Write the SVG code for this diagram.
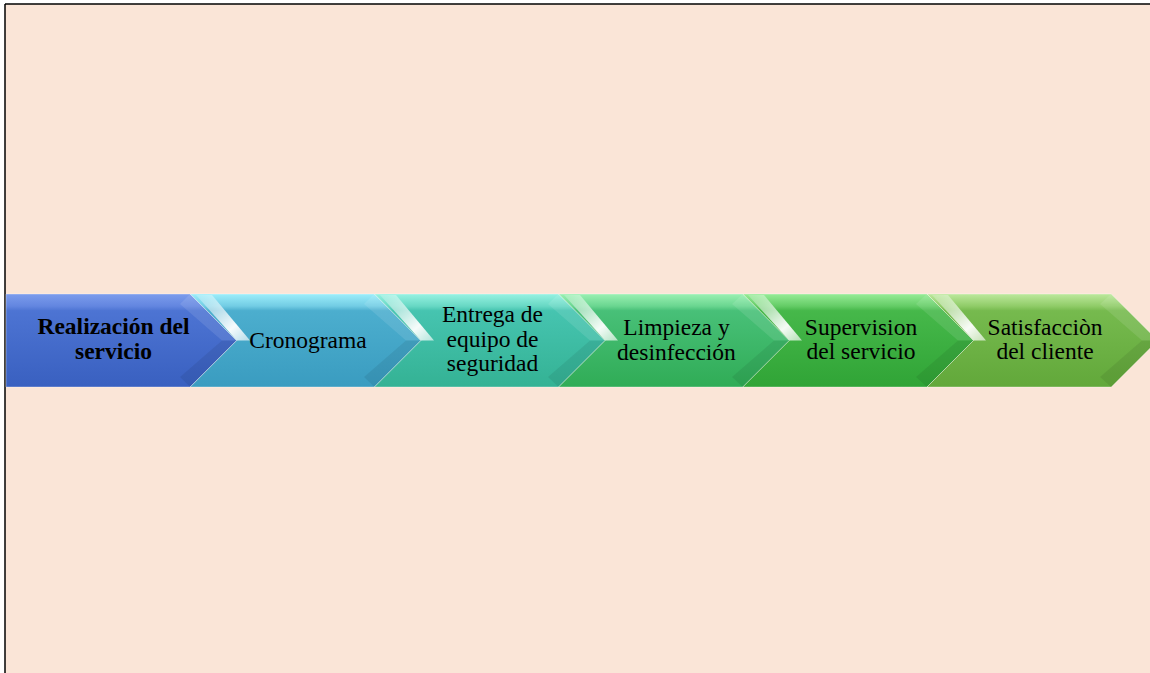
<svg xmlns="http://www.w3.org/2000/svg" width="1150" height="673" viewBox="0 0 1150 673">
<style>
.lbl{font-family:"Liberation Serif","Times New Roman",serif;font-size:23.5px;fill:#000;text-anchor:middle}
.b{font-weight:bold}
.sh{stroke:#ffffff;stroke-opacity:0.35;stroke-width:1}
.hl{fill:url(#hlg)}
.up{fill:#ffffff;fill-opacity:0.10}
.dn{fill:#000000;fill-opacity:0.07}
</style>
<defs>
<linearGradient id="g1" x1="0" y1="0" x2="0" y2="1"><stop offset="0" stop-color="#7C9CEC"/><stop offset="0.13" stop-color="#6386E0"/><stop offset="0.18" stop-color="#4D74D3"/><stop offset="1" stop-color="#3960C0"/></linearGradient>
<linearGradient id="g2" x1="0" y1="0" x2="0" y2="1"><stop offset="0" stop-color="#9CEEFA"/><stop offset="0.13" stop-color="#72CCE4"/><stop offset="0.18" stop-color="#4CAECE"/><stop offset="1" stop-color="#3A9CC0"/></linearGradient>
<linearGradient id="g3" x1="0" y1="0" x2="0" y2="1"><stop offset="0" stop-color="#96F2E2"/><stop offset="0.13" stop-color="#68D8C4"/><stop offset="0.18" stop-color="#46C4B0"/><stop offset="1" stop-color="#34B294"/></linearGradient>
<linearGradient id="g4" x1="0" y1="0" x2="0" y2="1"><stop offset="0" stop-color="#9AF0B2"/><stop offset="0.13" stop-color="#6AD690"/><stop offset="0.18" stop-color="#48C078"/><stop offset="1" stop-color="#30AC56"/></linearGradient>
<linearGradient id="g5" x1="0" y1="0" x2="0" y2="1"><stop offset="0" stop-color="#96EC96"/><stop offset="0.13" stop-color="#64CC66"/><stop offset="0.18" stop-color="#46B84A"/><stop offset="1" stop-color="#30A436"/></linearGradient>
<linearGradient id="g6" x1="0" y1="0" x2="0" y2="1"><stop offset="0" stop-color="#BCE89C"/><stop offset="0.13" stop-color="#90CC68"/><stop offset="0.18" stop-color="#76BA4E"/><stop offset="1" stop-color="#62A83A"/></linearGradient>
<linearGradient id="hlg" x1="0" y1="0" x2="1" y2="1"><stop offset="0" stop-color="#ffffff" stop-opacity="0.2"/><stop offset="0.7" stop-color="#ffffff" stop-opacity="0.95"/><stop offset="1" stop-color="#ffffff" stop-opacity="0.6"/></linearGradient>
</defs>
<rect x="0" y="0" width="1150" height="673" fill="#ffffff"/>
<rect x="5" y="4" width="1145" height="669" fill="#FAE5D7"/>
<line x1="5" y1="4" x2="1150" y2="4" stroke="#000" stroke-width="1.5"/>
<line x1="5" y1="4" x2="5" y2="673" stroke="#000" stroke-width="1.5"/>
<g id="connectors"></g>
<g id="n1">
<polygon class="sh" fill="url(#g1)" points="6,294 190.2,294 236.7,340.5 190.2,387 6,387"/>
<polygon class="up" points="180,304 190.2,294 236.7,340.5 222,340.5"/>
<polygon class="dn" points="222,340.5 236.7,340.5 190.2,387 180,377"/>
<text class="lbl b" x="113.5" y="334">Realización del</text>
<text class="lbl b" x="113.5" y="359">servicio</text>
</g>
<g id="n2">
<polygon class="sh" fill="url(#g2)" points="190.2,294 374.4,294 420.9,340.5 374.4,387 190.2,387 236.7,340.5"/>
<polygon class="hl" points="196,295 212,295 250,340.5 236.7,340.5"/>
<polygon class="up" points="364,304 374.4,294 420.9,340.5 406,340.5"/>
<polygon class="dn" points="406,340.5 420.9,340.5 374.4,387 364,377"/>
<text class="lbl" x="308" y="348">Cronograma</text>
</g>
<g id="n3">
<polygon class="sh" fill="url(#g3)" points="374.4,294 558.6,294 605.1,340.5 558.6,387 374.4,387 420.9,340.5"/>
<polygon class="hl" points="380,295 396,295 434,340.5 420.9,340.5"/>
<polygon class="up" points="548,304 558.6,294 605.1,340.5 590,340.5"/>
<polygon class="dn" points="590,340.5 605.1,340.5 558.6,387 548,377"/>
<text class="lbl" x="492.5" y="322">Entrega de</text>
<text class="lbl" x="492.5" y="346.5">equipo de</text>
<text class="lbl" x="492.5" y="371">seguridad</text>
</g>
<g id="n4">
<polygon class="sh" fill="url(#g4)" points="558.6,294 742.8,294 789.3,340.5 742.8,387 558.6,387 605.1,340.5"/>
<polygon class="hl" points="564,295 580,295 618,340.5 605.1,340.5"/>
<polygon class="up" points="732,304 742.8,294 789.3,340.5 774,340.5"/>
<polygon class="dn" points="774,340.5 789.3,340.5 742.8,387 732,377"/>
<text class="lbl" x="676.5" y="335">Limpieza y</text>
<text class="lbl" x="676.5" y="360">desinfección</text>
</g>
<g id="n5">
<polygon class="sh" fill="url(#g5)" points="742.8,294 927,294 973.5,340.5 927,387 742.8,387 789.3,340.5"/>
<polygon class="hl" points="748,295 764,295 802,340.5 789.3,340.5"/>
<polygon class="up" points="916,304 927,294 973.5,340.5 958,340.5"/>
<polygon class="dn" points="958,340.5 973.5,340.5 927,387 916,377"/>
<text class="lbl" x="861" y="335">Supervision</text>
<text class="lbl" x="861" y="359">del servicio</text>
</g>
<g id="n6">
<polygon class="sh" fill="url(#g6)" points="927,294 1111.2,294 1157.7,340.5 1111.2,387 927,387 973.5,340.5"/>
<polygon class="hl" points="932,295 948,295 986,340.5 973.5,340.5"/>
<polygon class="up" points="1100,304 1111.2,294 1157.7,340.5 1142,340.5"/>
<polygon class="dn" points="1142,340.5 1157.7,340.5 1111.2,387 1100,377"/>
<text class="lbl" x="1045" y="335">Satisfacciòn</text>
<text class="lbl" x="1045" y="359">del cliente</text>
</g>
</svg>
